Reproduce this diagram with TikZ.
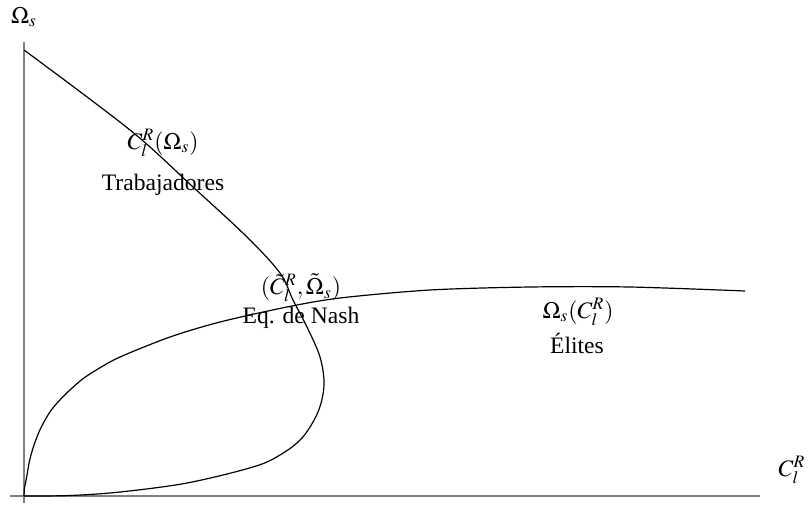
\documentclass[tikz,border=0pt]{standalone}
\usepackage{mathptmx}
\usepackage{fontspec}
\setmainfont{Liberation Serif}
\usepackage{xcolor}
\usetikzlibrary{positioning,calc}
\definecolor{axisgray}{RGB}{128,128,128}

\begin{document}
\begin{tikzpicture}[
    x=0.5pt, y=-0.5pt,
    every node/.style={font=\fontsize{11.8}{14}\selectfont, inner sep=0pt},
    axis/.style={draw=axisgray, line width=0.6pt},
    curve/.style={draw=black, line width=0.6pt},
    lbl/.style={anchor=center}
]
\useasboundingbox (0,0) rectangle (810,515);

% Axes
\coordinate (origin) at (24,496);
\coordinate (ytop) at (24,42);
\coordinate (ybot) at (24,503);
\coordinate (xleft) at (10,496);
\coordinate (xright) at (760,496);
\draw[axis] (ybot) -- (ytop);
\draw[axis] (xleft) -- (xright);

% Axis labels
\node[lbl] (ylabel) at (24,17) {$\Omega_s$};
\node[lbl] (xlabel) at (792,470) {$C_l^R$};

% Workers' reaction curve
\draw[curve] plot[smooth, tension=0.55] coordinates {
    (24,50) (130,130) (193,187) (247,237) (280,273) (293,300) (307,327)
    (320,357) (324,385) (318,412) (302,438) (280,455) (253,467) (187,483)
    (120,492) (70,495.5) (24,496)};

% Elites' reaction curve
\draw[curve] plot[smooth, tension=0.5] coordinates {
    (24,496) (24.5,488) (26.3,479) (29.7,460) (34.7,443) (41.3,427)
    (51.3,410) (64.7,395) (81.3,380) (96.3,370) (120,357) (170,337)
    (220,322) (287,307) (340,298) (430,290) (530,287) (630,287) (745,291)};

% Labels
\node[lbl] (workersfn) at (163,143) {$C_l^R(\Omega_s)$};
\node[lbl] (workers) at (163,185) {Trabajadores};
\node[lbl] (nashpt) at (301,288) {$(\tilde{C}_l^R,\tilde{\Omega}_s)$};
\node[lbl] (nash) at (301,318) {Eq. de Nash};
\node[lbl] (elitesfn) at (578,312) {$\Omega_s(C_l^R)$};
\node[lbl] (elites) at (577,343) {Élites};

\end{tikzpicture}
\end{document}
